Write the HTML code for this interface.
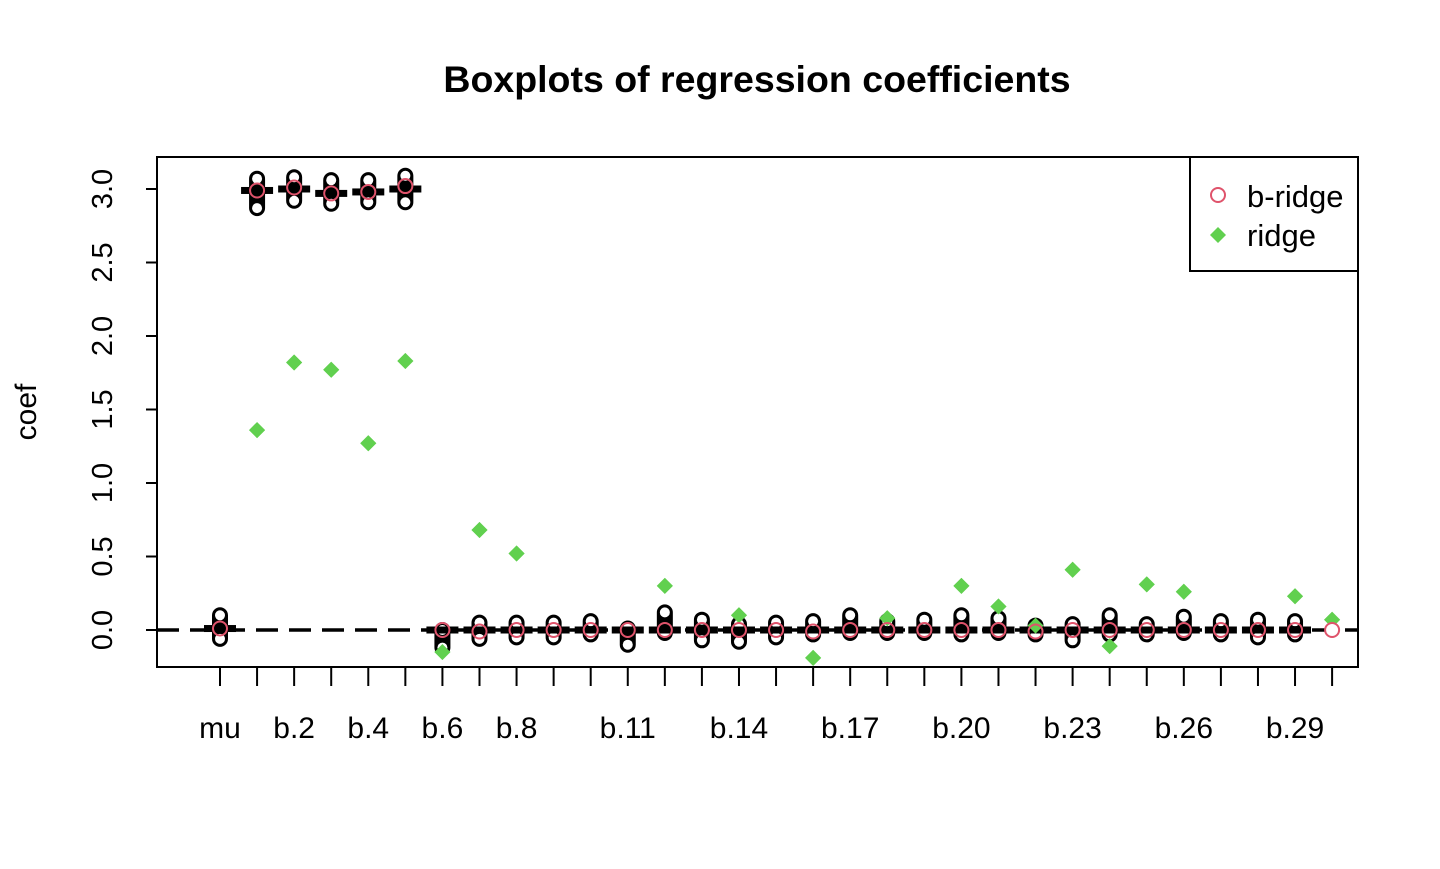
<!DOCTYPE html>
<html><head><meta charset="utf-8"><style>
body{margin:0;background:#fff}
svg text{font-family:"Liberation Sans",Arial,sans-serif}
</style></head><body>
<svg id="chart" width="1440" height="864" xmlns="http://www.w3.org/2000/svg">
<rect width="1440" height="864" fill="#fff"/>
<text x="757" y="92" font-size="37.5" font-weight="bold" text-anchor="middle">Boxplots of regression coefficients</text>
<text transform="translate(36,412) rotate(-90)" font-size="30" text-anchor="middle">coef</text>
<g id="marks"></g>
<rect x="157" y="157" width="1201" height="510" fill="none" stroke="#000" stroke-width="2"/>
<g>
<rect x="1190" y="157" width="168" height="114" fill="#fff" stroke="#000" stroke-width="2"/>
<circle cx="1218" cy="195" r="7" fill="none" stroke="#DF536B" stroke-width="2"/>
<text x="1247" y="207" font-size="31">b-ridge</text>
<path d="M1218 227 l8 8 l-8 8 l-8 -8z" fill="#61D04F"/>
<text x="1247" y="246" font-size="31">ridge</text>
</g>
</svg>
<script>
const categories=["mu","b.1","b.2","b.3","b.4","b.5","b.6","b.7","b.8","b.9","b.10","b.11","b.12","b.13","b.14","b.15","b.16","b.17","b.18","b.19","b.20","b.21","b.22","b.23","b.24","b.25","b.26","b.27","b.28","b.29","b.30"];
const shownLabels=["mu","b.2","b.4","b.6","b.8","b.11","b.14","b.17","b.20","b.23","b.26","b.29"];
const medians=[0.01,2.99,3.0,2.97,2.98,3.0,0,0,0,0,0,0,0,0,0,0,0,0,0,0,0,0,0,0,0,0,0,0,0,0,null];
const mins=[-0.06,2.87,2.92,2.90,2.91,2.91,-0.12,-0.06,-0.05,-0.05,-0.03,-0.10,-0.02,-0.07,-0.08,-0.05,-0.03,-0.02,-0.02,-0.02,-0.03,-0.02,-0.03,-0.07,-0.03,-0.03,-0.02,-0.03,-0.05,-0.03,null];
const maxs=[0.10,3.07,3.08,3.06,3.06,3.09,0,0.05,0.05,0.05,0.06,0.01,0.12,0.07,0.04,0.05,0.06,0.10,0.06,0.07,0.10,0.08,0.03,0.04,0.10,0.04,0.09,0.06,0.07,0.06,null];
const bridge=[0.01,2.99,3.01,2.97,2.98,3.02,0,-0.01,0,0,0,0,0,0,0,0,-0.01,0,0,0,0,0,-0.01,0,0,0,0,0,0,0,0];
const ridge=[0.02,1.36,1.82,1.77,1.27,1.83,-0.15,0.68,0.52,0,0,0,0.30,0.03,0.10,0,-0.19,0,0.08,0,0.30,0.16,0.03,0.41,-0.11,0.31,0.26,0,0,0.23,0.07];
const yTicks=[0,0.5,1,1.5,2,2.5,3];
const yLabels=["0.0","0.5","1.0","1.5","2.0","2.5","3.0"];

const NS="http://www.w3.org/2000/svg";
const X=i=>220+i*37.07;
const Y=v=>630-v*147;
const g=document.getElementById('marks');
const svg=document.getElementById('chart');
function mk(tag,attrs,parent){const e=document.createElementNS(NS,tag);for(const k in attrs)e.setAttribute(k,attrs[k]);(parent||g).appendChild(e);return e;}

yTicks.forEach((v,i)=>{
 const t=mk('line',{x1:146,x2:157,y1:Y(v),y2:Y(v),stroke:'#000','stroke-width':2},svg);
 
 
 const l=mk('text',{transform:`translate(112,${Y(v)}) rotate(-90)`,'font-size':29,'text-anchor':'middle'},svg);
 l.textContent=yLabels[i];
 
 
});
categories.forEach((c,i)=>{
 const t=mk('line',{x1:X(i),x2:X(i),y1:667,y2:686,stroke:'#000','stroke-width':2},svg);
 
 
 if(shownLabels.includes(c)){
  const l=mk('text',{x:X(i),y:738,'font-size':30,'text-anchor':'middle'},svg);
  l.textContent=c;
  
  
 }
});
const z=mk('line',{x1:157,x2:1358,y1:Y(0),y2:Y(0),stroke:'#000','stroke-width':3.5,'stroke-dasharray':'22 11'});



categories.forEach((c,i)=>{
 const x=X(i);
 const d=mk('path',{d:`M${x} ${Y(ridge[i])-8} l8 8 l-8 8 l-8 -8z`,fill:'#61D04F'});
 
 
});
categories.forEach((c,i)=>{
 const x=X(i);
 if(mins[i]!==null){
  const top=Y(maxs[i]),bot=Y(mins[i]);
  const p=mk('rect',{x:x-7,y:top-7,width:14,height:bot-top+14,rx:7,fill:'#000',stroke:'#000','stroke-width':2});
  
  
  mk('circle',{cx:x,cy:top,r:5,fill:'#fff'});
  mk('circle',{cx:x,cy:bot,r:5,fill:'#fff'});
  const b=mk('rect',{x:x-16,y:Y(medians[i])-3.5,width:32,height:7,fill:'#000'});
  
  
 }
 if(ridge[i]!==0 && Math.abs(ridge[i]-bridge[i])>0.03 && i>0){
  const d=mk('path',{d:`M${x} ${Y(ridge[i])-8} l8 8 l-8 8 l-8 -8z`,fill:'#61D04F'});
  
  
 }
 const r=mk('circle',{cx:x,cy:Y(bridge[i]),r:7,fill:i==30?'#fff':'none',stroke:'#DF536B','stroke-width':2});
 
 
});
</script>
</body></html>
